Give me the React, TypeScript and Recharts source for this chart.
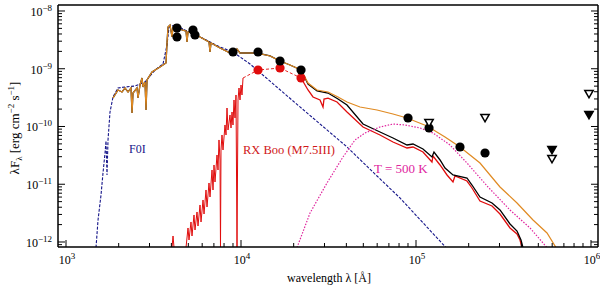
import React from "react";
import { ComposedChart, Line, Scatter, XAxis, YAxis } from "recharts";

// wavelength in Angstrom, lambda*F_lambda in erg cm^-2 s^-1
type Pt = [number, number];

// F0I photosphere model (blue dashed)
const f0iModel: Pt[] = [
  [1484, 8.0e-13], [1524, 2.4e-12], [1585, 6.52e-12], [1627, 1.567e-11], [1671, 3.48e-11],
  [1693, 5.61e-11], [1715, 1.445e-11], [1738, 5.83e-11], [1784, 1.78e-10], [1856, 3.24e-10],
  [1982, 4.65e-10], [2173, 4.83e-10], [2480, 5.02e-10], [2828, 5.9e-10], [3226, 9.5e-10],
  [3584, 1.21e-9], [3777, 2.58e-9], [3879, 5.28e-9], [4198, 5.73e-9], [4786, 4.69e-9],
  [5832, 3.55e-9], [7586, 2.38e-9], [9000, 1.95e-9], [11257, 1.21e-9], [21730, 2.18e-10],
  [40340, 4.42e-11], [59850, 1.39e-11], [81020, 5.78e-12], [148400, 8.0e-13],
];

// full model with dust (orange)
const dustyModel: Pt[] = [
  [1857, 3.115e-10], [1982, 4.285e-10], [2089, 3.957e-10], [2173, 4.64e-10], [2262, 3.957e-10],
  [2352, 4.64e-10], [2384, 1.713e-10], [2415, 3.8e-10], [2545, 4.64e-10], [2579, 3.115e-10],
  [2648, 5.23e-10], [2718, 6.915e-10], [2754, 4.83e-10], [2828, 5.9e-10], [2866, 1.931e-10],
  [2904, 6.385e-10], [3100, 8.78e-10], [3444, 1.072e-9], [3728, 1.258e-9], [3777, 2.79e-9],
  [3827, 5.28e-9], [3929, 5.72e-9], [4034, 3.55e-9], [4088, 5.28e-9], [4198, 5.72e-9],
  [4365, 5.08e-9], [4601, 4.69e-9], [4850, 4.5e-9], [4914, 2.905e-9], [4979, 4.33e-9],
  [5317, 4.16e-9], [5832, 3.55e-9], [6564, 2.905e-9], [6651, 1.95e-9], [6739, 2.79e-9],
  [7586, 2.288e-9], [8653, 1.874e-9], [9000, 2.112e-9], [9240, 1.8e-9], [9488, 2.198e-9],
  [9869, 1.874e-9], [10820, 1.874e-9], [12350, 1.874e-9], [14650, 1.663e-9], [16710, 1.362e-9],
  [19050, 1.161e-9], [22030, 9.51e-10], [24150, 5.665e-10], [27180, 4.285e-10], [31420, 3.957e-10],
  [35840, 3.243e-10], [40340, 2.656e-10], [47860, 2.176e-10], [59860, 1.931e-10], [73880, 1.646e-10],
  [88840, 1.404e-10], [115600, 1.02e-10], [146500, 6.58e-11], [178400, 4.416e-11], [232100, 2.333e-11],
  [302000, 8.96e-12], [377800, 4.735e-12], [466300, 2.404e-12], [560600, 1.432e-12], [631000, 8.0e-13],
];

// stellar model (black) beyond K band
const starsModelIR: Pt[] = [
  [24150, 5.443e-10], [27180, 4.12e-10], [31420, 3.8e-10], [35840, 2.994e-10], [40340, 2.357e-10],
  [49800, 1.105e-10], [62270, 8.03e-11], [73880, 6.32e-11], [88840, 4.783e-11], [96130, 4.977e-11],
  [109600, 4.078e-11], [123400, 2.964e-11], [126700, 3.617e-11], [137200, 2.63e-11], [146500, 1.911e-11],
  [162700, 1.446e-11], [195600, 1.283e-11], [208900, 9.7e-12], [232100, 6.015e-12], [271900, 4.735e-12],
  [302000, 3.582e-12], [344500, 2.05e-12], [377800, 1.55e-12], [398100, 1.083e-12], [408700, 8.0e-13],
];

// RX Boo spectrum (red)
const rxBooSpectrum: Pt[] = [
  [4034, 8e-13], [4088, 1.27e-12], [4142, 8e-13], [4850, 8e-13], [4979, 1.748e-12],
  [5045, 1.083e-12], [5179, 2.22e-12], [5248, 1.27e-12], [5388, 2.934e-12], [5459, 1.614e-12],
  [5605, 3.307e-12], [5679, 1.893e-12], [5832, 4.372e-12], [5909, 2.22e-12], [6067, 5.336e-12],
  [6147, 3.053e-12], [6310, 7.95e-12], [6394, 4.038e-12], [6564, 1.051e-11], [6651, 6.015e-12],
  [6829, 1.765e-11], [6918, 7.95e-12], [7010, 2.154e-11], [7103, 1.094e-11], [7292, 3.21e-11],
  [7389, 1.765e-11], [7486, 5.84e-11], [7586, 2.63e-11], [7635, 8e-13], [7686, 3.92e-11],
  [7788, 7.125e-11], [7891, 3.92e-11], [8101, 1.062e-10], [8209, 7.125e-11], [8318, 2.09e-10],
  [8428, 8.7e-11], [8653, 1.582e-10], [8768, 9.42e-11], [8884, 1.783e-10], [9000, 1.062e-10],
  [9120, 2.876e-10], [9240, 1.404e-10], [9363, 3.512e-10], [9488, 8e-13], [9613, 2.876e-10],
  [9740, 4.64e-10], [9869, 2.876e-10], [10000, 5.23e-10], [10130, 3.512e-10], [10270, 6.915e-10],
];

const rxBooIR: Pt[] = [
  [22030, 6.915e-10], [24150, 4.285e-10], [25790, 3.243e-10], [28280, 2.876e-10], [29420, 2.176e-10],
  [29810, 2.994e-10], [31420, 3.1e-10], [35370, 2.656e-10], [40340, 1.783e-10], [49800, 9.8e-11],
  [62270, 7.125e-11], [73880, 5.39e-11], [88840, 4.244e-11], [96130, 4.416e-11], [109600, 3.617e-11],
  [123400, 2.428e-11], [125100, 3.085e-11], [137200, 2.154e-11], [150400, 1.446e-11], [162700, 1.094e-11],
  [167000, 1.39e-11], [195600, 1.138e-11], [208900, 8.61e-12], [232100, 5.13e-12], [271900, 4.2e-12],
  [302000, 3.053e-12], [344500, 1.748e-12], [377800, 1.375e-12], [392900, 1.083e-12], [403400, 8.0e-13],
];

// T = 500 K blackbody (magenta dotted)
const blackbody500: Pt[] = [
  [20890, 8e-13], [24800, 3.178e-12], [31000, 1.051e-11], [38260, 2.964e-11], [44820, 5.84e-11],
  [51110, 7.72e-11], [62270, 9.8e-11], [73880, 1.105e-10], [86520, 1.062e-10], [105400, 9.42e-11],
  [125100, 7.72e-11], [156400, 4.783e-11], [195600, 2.333e-11], [257900, 8.96e-12], [344500, 3.582e-12],
  [448300, 1.748e-12], [560600, 8e-13],
];

// photometry
const rxBooPhot: Pt[] = [[12510, 9.51e-10], [16710, 1.03e-9], [22030, 6.915e-10]];
const rxBooLink: Pt[] = [[10270, 6.915e-10], ...rxBooPhot];
const obsPhot: Pt[] = [
  [4307, 5.08e-9], [4307, 3.55e-9], [5317, 4.69e-9], [5459, 3.84e-9], [9000, 1.95e-9],
  [12510, 1.95e-9], [16710, 1.362e-9], [22030, 9.51e-10], [90020, 1.404e-10], [118700, 9.42e-11],
  [178400, 4.416e-11], [248000, 3.476e-11],
];
const limitsOpen: Pt[] = [[118700, 1.15e-10], [248000, 1.404e-10], [598600, 2.736e-11], [974000, 3.654e-10]];
const limitsFilled: Pt[] = [[598600, 3.92e-11], [974000, 1.582e-10]];

const X_DOMAIN: [number, number] = [900, 1.0965e6];
const Y_DOMAIN: [number, number] = [8.19e-13, 1.27e-8];
const X_DECADES = [1e3, 1e4, 1e5, 1e6];
const Y_DECADES = [1e-13, 1e-12, 1e-11, 1e-10, 1e-9, 1e-8];
const MULTS = [1, 2, 3, 4, 5, 6, 7, 8, 9];

const FONT = "'Liberation Serif', 'DejaVu Serif', serif";
const ORANGE = "#e08a22";
const RED = "#e00c0c";
const NAVY = "#16168a";
const MAGENTA = "#e0259e";

const toXY = (arr: Pt[]) => arr.map(([x, y]) => ({ x, y }));
const logTicks = (decades: number[], [lo, hi]: [number, number]) =>
  decades.flatMap((d) => MULTS.map((m) => m * d)).filter((v) => v > lo * 1.0001 && v < hi * 0.9999);

const xTicks = logTicks(X_DECADES, X_DOMAIN);
const yTicks = logTicks(Y_DECADES, Y_DOMAIN);

const starsModel = [...dustyModel.filter(([l]) => l <= 22030), ...starsModelIR];

const isMajor = (v: number) => Math.abs(Math.log10(v) - Math.round(Math.log10(v))) < 1e-6;

const LogTick = (props: any) => {
  const { x, y, payload, side } = props;
  const v = payload.value;
  const major = isMajor(v);
  const len = major ? 7 : 4;
  const exp = Math.round(Math.log10(v));
  const expText = exp < 0 ? "\u2212" + Math.abs(exp) : String(exp);
  let line;
  if (side === "bottom") line = <line x1={x} y1={y} x2={x} y2={y - len} stroke="#000" strokeWidth={1} />;
  else if (side === "top") line = <line x1={x} y1={y} x2={x} y2={y + len} stroke="#000" strokeWidth={1} />;
  else if (side === "left") line = <line x1={x} y1={y} x2={x + len} y2={y} stroke="#000" strokeWidth={1} />;
  else line = <line x1={x} y1={y} x2={x - len} y2={y} stroke="#000" strokeWidth={1} />;
  let label = null;
  if (major && side === "bottom") {
    label = (
      <text x={x + 1} y={y + 17} textAnchor="middle" fontFamily={FONT} fontSize={12} fill="#000">
        10<tspan dy={-5} fontSize={9}>{expText}</tspan>
      </text>
    );
  }
  if (major && side === "left") {
    label = (
      <text x={x - 6} y={y + 5} textAnchor="end" fontFamily={FONT} fontSize={12} fill="#000">
        10<tspan dy={-5} fontSize={9}>{expText}</tspan>
      </text>
    );
  }
  return (
    <g>
      {line}
      {label}
    </g>
  );
};

const Dot = (color: string) => (p: any) => <circle cx={p.cx} cy={p.cy} r={4.6} fill={color} />;
const Tri = (filled: boolean) => (p: any) => (
  <polygon
    points={`${p.cx - 4.2},${p.cy - 3.6} ${p.cx + 4.2},${p.cy - 3.6} ${p.cx},${p.cy + 3.8}`}
    fill={filled ? "#000" : "#fff"}
    stroke="#000"
    strokeWidth={1.5}
  />
);

const lineProps = { dataKey: "y", dot: false, activeDot: false, isAnimationActive: false, type: "linear" as const };

export default function App() {
  return (
    <div style={{ position: "absolute", left: 0, top: 0, width: 600, height: 286, background: "#fff" }}>
      <ComposedChart width={600} height={286} margin={{ top: 0, right: 0, bottom: 0, left: 0 }}>
        <XAxis
          dataKey="x"
          type="number"
          scale="log"
          domain={X_DOMAIN}
          allowDataOverflow
          ticks={xTicks}
          interval={0}
          height={39}
          tickSize={0}
          tickMargin={0}
          tickLine={false}
          axisLine={{ stroke: "#000", strokeWidth: 1.5 }}
          tick={(p: any) => <LogTick {...p} side="bottom" />}
        />
        <XAxis
          xAxisId="top"
          orientation="top"
          type="number"
          scale="log"
          domain={X_DOMAIN}
          allowDataOverflow
          ticks={xTicks}
          interval={0}
          height={5}
          tickSize={0}
          tickMargin={0}
          tickLine={false}
          axisLine={{ stroke: "#000", strokeWidth: 1.5 }}
          tick={(p: any) => <LogTick {...p} side="top" />}
        />
        <YAxis
          dataKey="y"
          type="number"
          scale="log"
          domain={Y_DOMAIN}
          allowDataOverflow
          ticks={yTicks}
          interval={0}
          width={58}
          tickSize={0}
          tickMargin={0}
          tickLine={false}
          axisLine={{ stroke: "#000", strokeWidth: 1.5 }}
          tick={(p: any) => <LogTick {...p} side="left" />}
        />
        <YAxis
          yAxisId="right"
          orientation="right"
          type="number"
          scale="log"
          domain={Y_DOMAIN}
          allowDataOverflow
          ticks={yTicks}
          interval={0}
          width={2}
          tickSize={0}
          tickMargin={0}
          tickLine={false}
          axisLine={{ stroke: "#000", strokeWidth: 1.5 }}
          tick={(p: any) => <LogTick {...p} side="right" />}
        />
        <Line {...lineProps} data={toXY(rxBooSpectrum)} stroke={RED} strokeWidth={1} />
        <Line {...lineProps} data={toXY(rxBooIR)} stroke={RED} strokeWidth={1.3} />
        <Line {...lineProps} data={toXY(rxBooLink)} stroke={RED} strokeWidth={0.9} strokeDasharray="3 2" />
        <Line {...lineProps} data={toXY(f0iModel)} stroke={NAVY} strokeWidth={1.1} strokeDasharray="3 1.5" />
        <Line {...lineProps} data={toXY(starsModel)} stroke="#000" strokeWidth={1.3} />
        <Line {...lineProps} data={toXY(dustyModel)} stroke={ORANGE} strokeWidth={1.2} />
        <Line {...lineProps} data={toXY(blackbody500)} stroke={MAGENTA} strokeWidth={1.2} strokeDasharray="1.5 1.5" />
        <Scatter data={toXY(rxBooPhot)} shape={Dot(RED)} isAnimationActive={false} />
        <Scatter data={toXY(obsPhot)} shape={Dot("#000")} isAnimationActive={false} />
        <Scatter data={toXY(limitsOpen)} shape={Tri(false)} isAnimationActive={false} />
        <Scatter data={toXY(limitsFilled)} shape={Tri(true)} isAnimationActive={false} />
      </ComposedChart>
      <svg width={600} height={286} style={{ position: "absolute", left: 0, top: 0, pointerEvents: "none" }}>
        <text x={129} y={153} fontFamily={FONT} fontSize={12} fill={NAVY}>F0I</text>
        <text x={243} y={154} fontFamily={FONT} fontSize={12.5} fill="#d01818">RX Boo (M7.5III)</text>
        <text x={374} y={173} fontFamily={FONT} fontSize={13} fill={MAGENTA}>T = 500 K</text>
        <text x={329} y={282} textAnchor="middle" fontFamily={FONT} fontSize={12} fill="#000">
          wavelength λ [Å]
        </text>
        <text
          x={19}
          y={128}
          textAnchor="middle"
          transform="rotate(-90 19 128)"
          fontFamily={FONT}
          fontSize={13}
          fill="#000"
        >
          λF<tspan dy={3} fontSize={9}>λ</tspan>
          <tspan dy={-3}> [erg cm</tspan>
          <tspan dy={-5} fontSize={9}>−2</tspan>
          <tspan dy={5}> s</tspan>
          <tspan dy={-5} fontSize={9}>−1</tspan>
          <tspan dy={5}>]</tspan>
        </text>
      </svg>
    </div>
  );
}
